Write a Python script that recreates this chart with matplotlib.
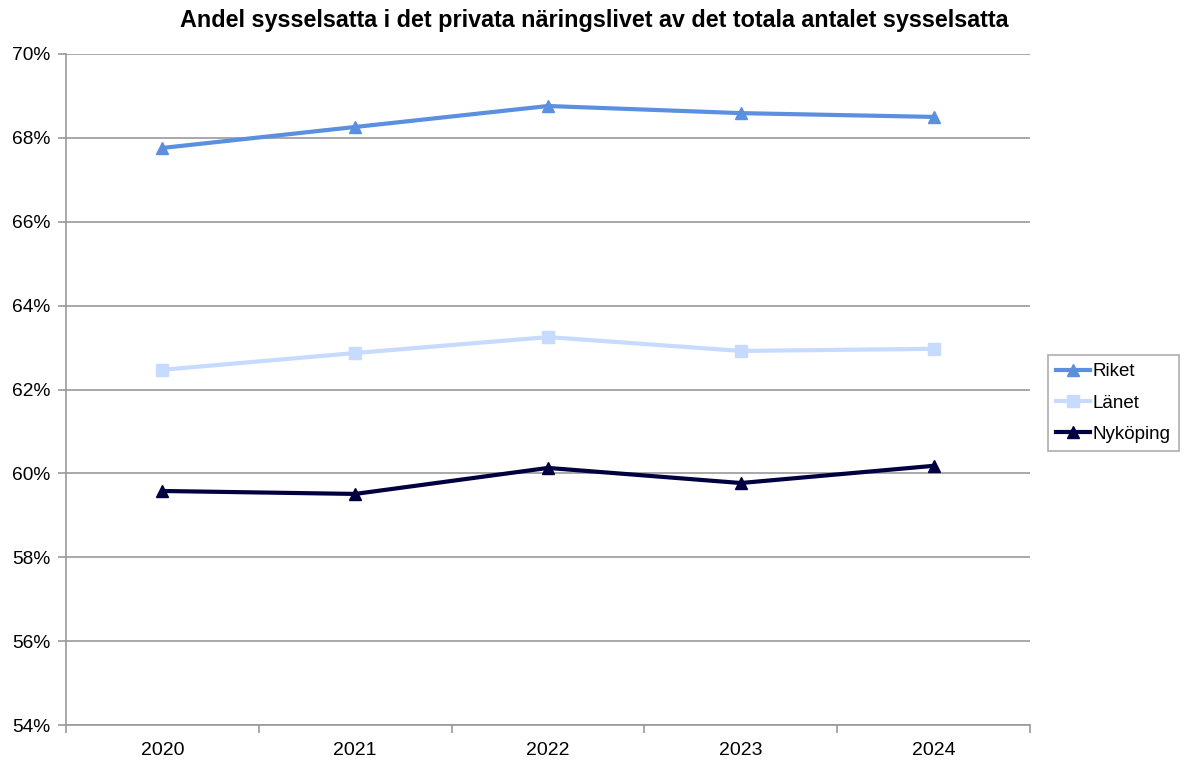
import numpy as np
import matplotlib.pyplot as plt
from matplotlib.ticker import FixedLocator, PercentFormatter

plt.rcParams['font.family'] = ['Liberation Sans', 'DejaVu Sans']

years = ['2020', '2021', '2022', '2023', '2024']
riket = [67.76, 68.26, 68.76, 68.59, 68.50]
lanet = [62.47, 62.87, 63.25, 62.92, 62.97]
nykoping = [59.58, 59.51, 60.13, 59.77, 60.18]

fig = plt.figure(figsize=(11.89, 7.61), dpi=100)
ax = fig.add_axes([66/1189, 1-725/761, (1030-66)/1189, (725-54)/761])

x = np.arange(len(years))
ax.plot(x, riket, color='#5B8FE0', lw=3, marker='^', ms=9, label='Riket', zorder=3)
ax.plot(x, lanet, color='#C6DBFF', lw=3, marker='s', ms=9, label='Länet', zorder=3)
ax.plot(x, nykoping, color='#000040', lw=3, marker='^', ms=9, label='Nyköping', zorder=3)

ax.set_xlim(-0.5, len(years) - 0.5)
ax.set_ylim(54, 70)
ax.set_yticks(np.arange(54, 71, 2))
ax.yaxis.set_major_formatter(PercentFormatter(decimals=0))
ax.yaxis.grid(True, color='#999999', lw=1.2)
ax.set_axisbelow(True)

# category labels centred, tick marks on the boundaries
ax.set_xticks(x)
ax.set_xticklabels(years)
ax.tick_params(axis='x', which='major', length=0, pad=12, labelsize=14)
ax.xaxis.set_minor_locator(FixedLocator(np.arange(-0.5, len(years), 1)))
ax.tick_params(axis='x', which='minor', length=6, color='#999999', width=1.2)
ax.tick_params(axis='y', length=6, color='#999999', width=1.2, labelsize=13.8, pad=5)

for s in ['top', 'right']:
    ax.spines[s].set_visible(False)
for s in ['left', 'bottom']:
    ax.spines[s].set_color('#999999')
    ax.spines[s].set_linewidth(1.2)

fig.text(0.5, 1 - 20/761, 'Andel sysselsatta i det privata näringslivet av det totala antalet sysselsatta',
         ha='center', va='center', fontsize=16.8, fontweight='bold')

leg = ax.legend(loc='center left', bbox_to_anchor=(1048/1189, 1 - 403/761),
                bbox_transform=fig.transFigure, fontsize=13.5, frameon=True,
                fancybox=False, edgecolor='#999999', handlelength=1.8,
                handletextpad=0.15, borderpad=0.45, labelspacing=0.75, borderaxespad=0)
leg.get_frame().set_linewidth(1.2)

fig.savefig('out.png', dpi=100)
